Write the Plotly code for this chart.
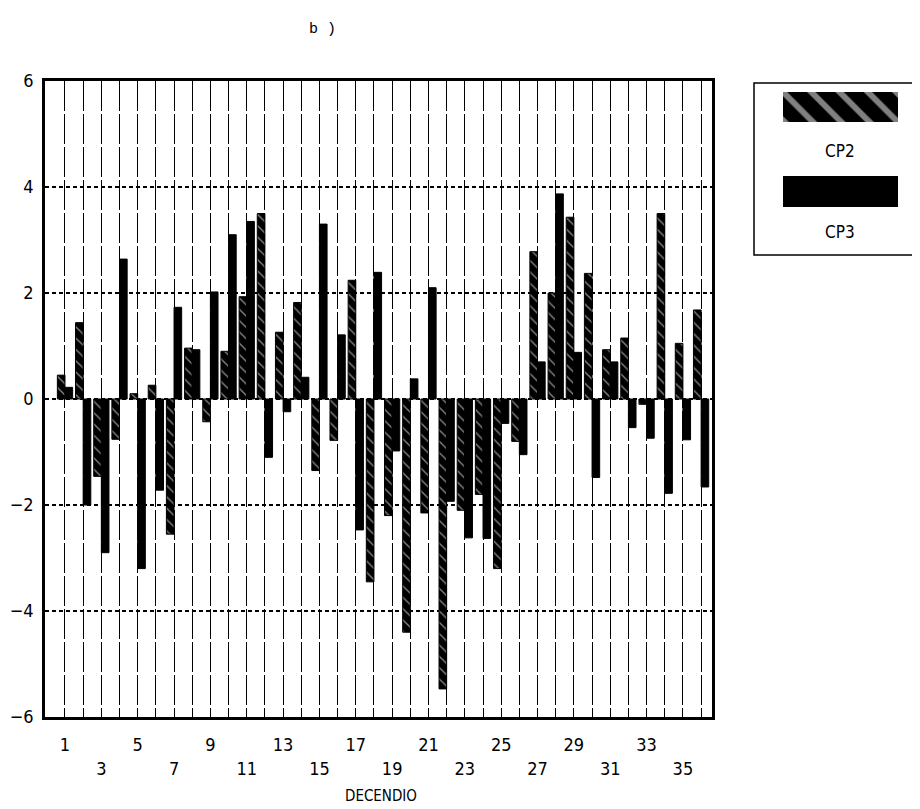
import plotly.graph_objects as go

# ---- data ----
decendio = list(range(1, 37))
cp2 = [0.45, 1.44, -1.46, -0.76, 0.1, 0.26, -2.55, 0.96, -0.43, 0.9, 1.93, 3.5,
       1.26, 1.82, -1.35, -0.78, 2.24, -3.45, -2.2, -4.4, -2.15, -5.47, -2.1, -1.8,
       -3.2, -0.8, 2.78, 2.0, 3.43, 2.37, 0.93, 1.15, -0.1, 3.5, 1.05, 1.68]
cp3 = [0.22, -2.0, -2.9, 2.64, -3.2, -1.72, 1.73, 0.93, 2.02, 3.1, 3.35, -1.1,
       -0.24, 0.41, 3.3, 1.21, -2.47, 2.39, -0.98, 0.38, 2.1, -1.93, -2.62, -2.63,
       -0.46, -1.05, 0.7, 3.87, 0.88, -1.48, 0.7, -0.54, -0.74, -1.78, -0.77, -1.66]
x_tickvals = decendio
x_ticktext = [("" if d % 2 == 0 else (str(d) if d % 4 == 1 else "<br>" + str(d))) for d in decendio]
y_tickvals = [-6, -4, -2, 0, 2, 4, 6]
y_ticktext = ["\u22126", "\u22124", "\u22122", "0", "2", "4", "6"]
series_names = ["CP2", "CP3"]
x_title = "DECENDIO"
panel_title = "b )"

FONT = "DejaVu Sans Condensed, DejaVu Sans, sans-serif"

W, H = 920, 809
OFF = 8  # page body margin in the browser
# desired on-screen plot box
S_LEFT, S_RIGHT, S_TOP, S_BOTTOM = 45, 712, 81, 717
L = S_LEFT - OFF
T = S_TOP - OFF
B = H - (S_BOTTOM - OFF)
R = 0
pw = W - L - R
ph = H - T - B

def px_x(p):
    return (p - OFF - L) / pw

def px_y(p):
    return (H - B - (p - OFF)) / ph

fig = go.Figure()
fig.add_trace(go.Bar(
    x=decendio, y=cp2, name=series_names[0],
    marker=dict(color="black", line=dict(color="black", width=1),
                pattern=dict(shape="\\", fgcolor="white", size=8, solidity=0.18)),
    showlegend=False,
))
fig.add_trace(go.Bar(
    x=decendio, y=cp3, name=series_names[1],
    marker=dict(color="black", line=dict(color="black", width=1)),
    showlegend=False,
))

# legend sample (hatched) drawn as a bar on a small separate axis
fig.add_trace(go.Bar(
    x=[0.5], y=[1], width=[1], xaxis="x2", yaxis="y2", showlegend=False,
    marker=dict(color="black", line=dict(width=0),
                pattern=dict(shape="\\", fgcolor="white", size=20, solidity=0.3)),
    hoverinfo="skip",
))

ann_common = dict(xref="paper", yref="paper", showarrow=False, xanchor="center", yanchor="middle")

fig.update_layout(
    width=W, height=H,
    margin=dict(l=L, r=R, t=T, b=B, autoexpand=False),
    paper_bgcolor="white", plot_bgcolor="white",
    barmode="group", bargap=0.16, bargroupgap=0.0,
    font=dict(family=FONT, color="black", size=18),
    xaxis=dict(
        domain=[0, px_x(S_RIGHT)],
        range=[-0.1, 36.6],
        tickvals=x_tickvals, ticktext=x_ticktext,
        tickangle=0, automargin=False,
        showgrid=True, gridcolor="black", gridwidth=1, griddash="30px,3px",
        showline=True, linecolor="black", linewidth=2.5, mirror=True,
        ticks="", ticklabelstandoff=10,
        zeroline=False,
        tickfont=dict(size=18),
    ),
    yaxis=dict(
        range=[-6, 6], automargin=False,
        tickvals=y_tickvals, ticktext=y_ticktext,
        showgrid=True, gridcolor="black", gridwidth=1.6, griddash="4px,3px",
        showline=True, linecolor="black", linewidth=2.5, mirror=True,
        zeroline=False, ticks="", ticklabelstandoff=5,
        tickfont=dict(size=18),
    ),
    xaxis2=dict(domain=[px_x(783), px_x(898)], range=[0, 1], visible=False, anchor="y2"),
    yaxis2=dict(domain=[px_y(122), px_y(92)], range=[0, 1], visible=False, anchor="x2"),
    shapes=[
        # legend frame
        dict(type="rect", xref="paper", yref="paper",
             x0=px_x(754), x1=px_x(935), y0=px_y(255), y1=px_y(83),
             line=dict(color="black", width=1.5), fillcolor="rgba(0,0,0,0)", layer="below"),
        # legend solid sample
        dict(type="rect", xref="paper", yref="paper",
             x0=px_x(783), x1=px_x(898), y0=px_y(207), y1=px_y(176),
             line=dict(color="black", width=0), fillcolor="black"),
    ],
    annotations=[
        dict(text=panel_title, x=px_x(322), y=px_y(30),
             font=dict(family="Liberation Mono, DejaVu Sans Mono, monospace", size=15), **ann_common),
        dict(text=x_title, x=px_x(381), y=px_y(796), font=dict(size=15), **ann_common),
        dict(text=series_names[0], x=px_x(840), y=px_y(151), font=dict(size=17), **ann_common),
        dict(text=series_names[1], x=px_x(840), y=px_y(232), font=dict(size=17), **ann_common),
    ],
)

fig.write_html("out.html")
